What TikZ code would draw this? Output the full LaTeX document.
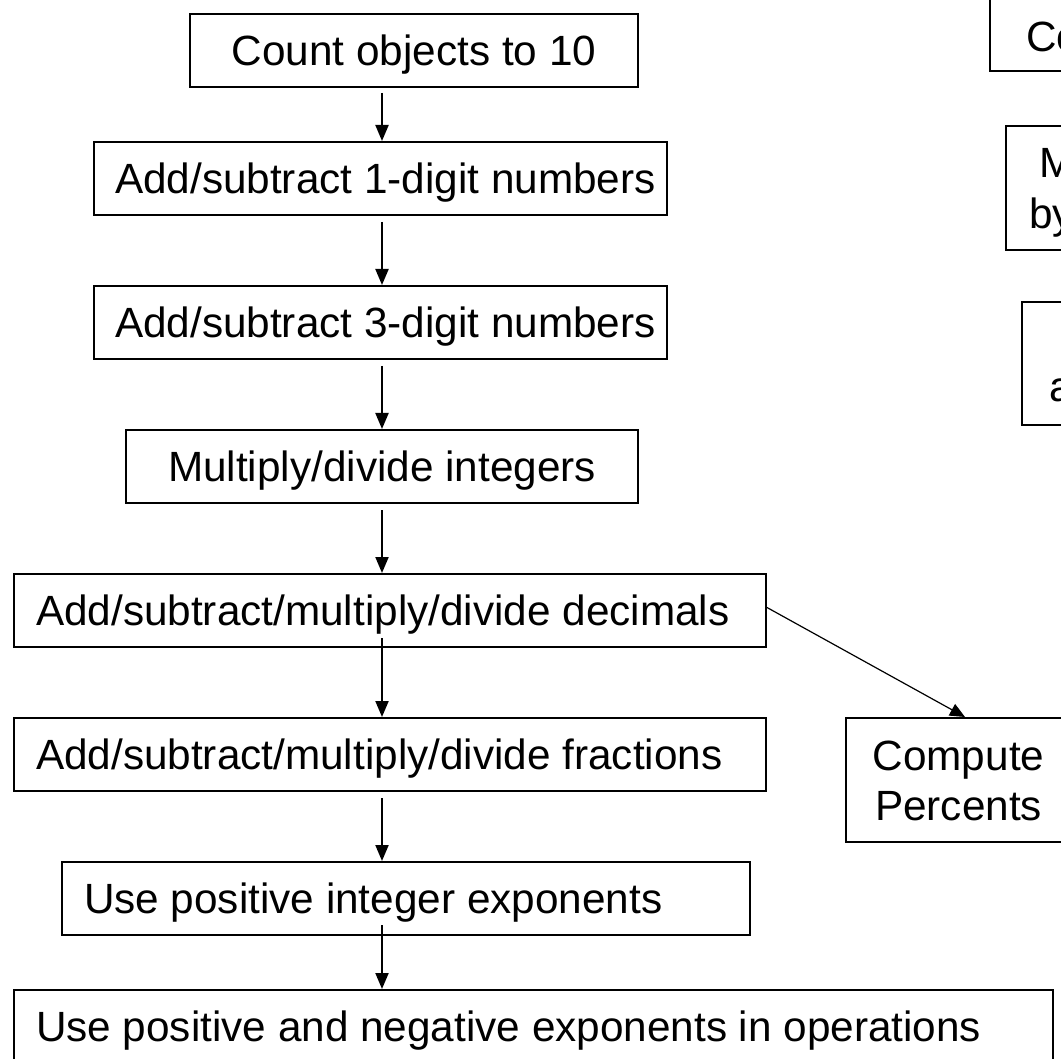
\documentclass[tikz,border=0pt]{standalone}
\usepackage{fontspec}
\setmainfont{Liberation Sans}
\usetikzlibrary{arrows.meta}
\begin{document}
\begin{tikzpicture}[x=1pt,y=-1pt,
  every node/.style={font=\fontsize{42.3}{49}\selectfont},
  box/.style={draw, line width=2pt, inner ysep=0pt, inner xsep=0pt, minimum height=73pt,
              text height=30.3pt, text depth=0pt},
  txt/.style={inner sep=0pt},
  arr/.style={line width=2pt, -{Triangle[length=16pt,width=13pt]}},
  darr/.style={line width=1.2pt, -{Triangle[length=15pt,width=13pt]}}]
\useasboundingbox (0,0) rectangle (1061,1059);
\clip (0,0) rectangle (1061,1059);
\fill[white] (0,0) rectangle (1061,1059);

% main column
\node[box, minimum width=448pt] (n1) at (414,50.5) {Count objects to 10};
\node[box, minimum width=573pt, inner xsep=21pt] (n2) at (380.5,178.5) {\makebox[531pt][l]{Add/subtract 1-digit numbers}};
\node[box, minimum width=573pt, inner xsep=21pt] (n3) at (380.5,322.5) {\makebox[531pt][l]{Add/subtract 3-digit numbers}};
\node[box, minimum width=512pt] (n4) at (382,466.5) {Multiply/divide integers};
\node[box, minimum width=752pt, inner xsep=22pt] (n5) at (390,610.5) {\makebox[708pt][l]{Add/subtract/multiply/divide decimals}};
\node[box, minimum width=752pt, inner xsep=22pt] (n6) at (390,754.5) {\makebox[708pt][l]{Add/subtract/multiply/divide fractions}};
\node[box, minimum width=688pt, inner xsep=22pt] (n7) at (406,898.5) {\makebox[644pt][l]{Use positive integer exponents}};
\node[box, minimum width=1039pt, inner xsep=22pt] (n8) at (533.5,1026.5) {\makebox[995pt][l]{Use positive and negative exponents in operations}};

% compute percents
\node[box, minimum width=225pt, minimum height=124pt] (pct) at (958.5,780) {};
\node[txt, anchor=base] (pct1) at (958.5,770) {Compute};
\node[txt, anchor=base] (pct2) at (958.5,820) {Percents};

% cut-off boxes on the right
\node[draw, line width=2pt, inner sep=0pt, minimum width=300pt, minimum height=111pt] (co) at (1140,15.5) {};
\node[txt, anchor=base west] (cot) at (1026,51.5) {Co};
\node[draw, line width=2pt, inner sep=0pt, minimum width=300pt, minimum height=124pt] (mb) at (1156,188) {};
\node[txt, anchor=base west] (mbt1) at (1039,178) {M};
\node[txt, anchor=base west] (mbt2) at (1029,229) {by};
\node[draw, line width=2pt, inner sep=0pt, minimum width=300pt, minimum height=123pt] (ab) at (1172,363.5) {};
\node[txt, anchor=base west] (abt) at (1049.5,402) {a};

% arrow starts
\coordinate (s1) at (382,93);
\coordinate (s2) at (382,222);
\coordinate (s3) at (382,366);
\coordinate (s4) at (382,510);
\coordinate (s5) at (382,638);
\coordinate (s6) at (382,798);
\coordinate (s7) at (382,925);

\draw[arr] (s1) -- (s1 |- n2.north);
\draw[arr] (s2) -- (s2 |- n3.north);
\draw[arr] (s3) -- (s3 |- n4.north);
\draw[arr] (s4) -- (s4 |- n5.north);
\draw[arr] (s5) -- (s5 |- n6.north);
\draw[arr] (s6) -- (s6 |- n7.north);
\draw[arr] (s7) -- (s7 |- n8.north);

\draw[darr] ([yshift=3pt]n5.east) -- ([xshift=6.5pt]pct.north);
\end{tikzpicture}
\end{document}
